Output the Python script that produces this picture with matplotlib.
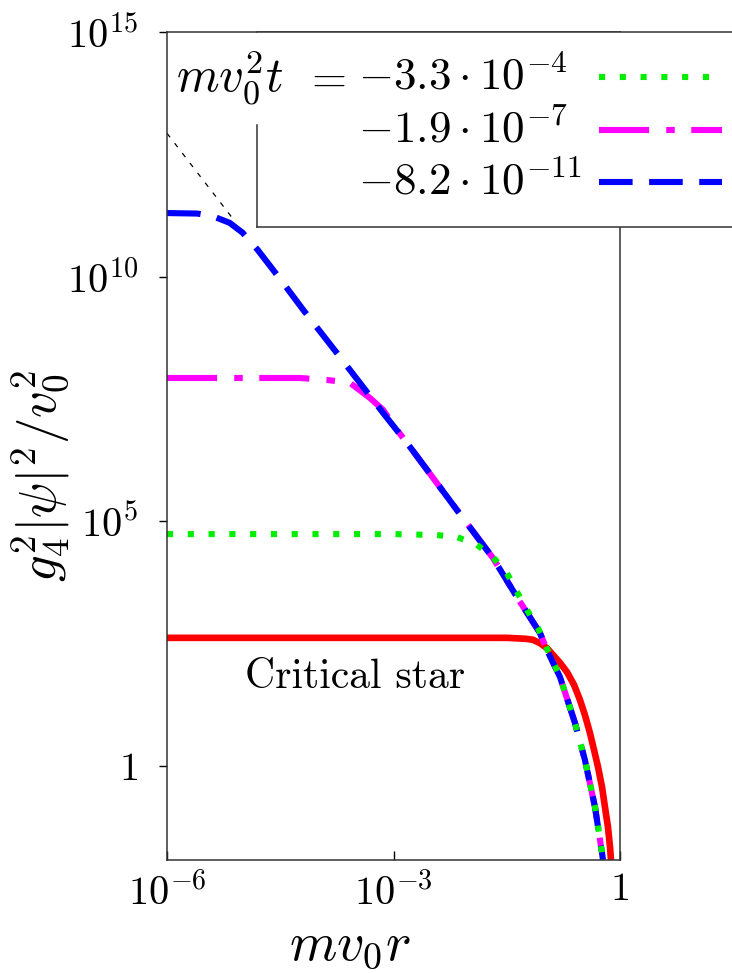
import matplotlib
matplotlib.use("Agg")
import matplotlib.pyplot as plt
import numpy as np
from matplotlib.lines import Line2D
from matplotlib.patches import Rectangle

plt.rcParams['mathtext.fontset'] = 'cm'
plt.rcParams['font.family'] = ['cmr10', 'DejaVu Serif']
plt.rcParams['axes.formatter.use_mathtext'] = True

# values, as log10(m v0 r) and log10(g4^2 |psi|^2 / v0^2)
star_logr = [-6.0, -3.0, -1.5, -1.245, -1.152, -1.06, -0.967, -0.887, -0.795, -0.702, -0.609, -0.53,
             -0.464, -0.397, -0.344, -0.291, -0.238, -0.199, -0.159, -0.132, -0.119]
star_logy = [2.62, 2.62, 2.62, 2.60, 2.58, 2.51, 2.41, 2.27, 2.11, 1.92, 1.66, 1.35,
             1.04, 0.67, 0.33, -0.02, -0.43, -0.84, -1.25, -1.66, -1.92]

green_logr = [-6.0, -3.0, -2.424, -2.159, -1.894, -1.682, -1.497, -1.364, -1.232, -1.086, -0.967, -0.795, -0.596, -0.464, -0.331, -0.238, -0.225]
green_logy = [4.74, 4.74, 4.72, 4.68, 4.52, 4.27, 3.94, 3.56, 3.19, 2.82, 2.40, 1.82, 0.88, 0.12, -0.84, -1.78, -1.92]

magenta_logr = [-6.0, -4.24, -3.881, -3.576, -3.311, -3.139, -2.954, -2.781, -2.159, -1.682, -1.364, -1.06, -0.967, -0.795, -0.596, -0.464, -0.331, -0.238, -0.225]
magenta_logy = [7.93, 7.93, 7.89, 7.83, 7.52, 7.28, 6.87, 6.52, 5.23, 4.25, 3.45, 2.72, 2.37, 1.82, 0.88, 0.12, -0.84, -1.78, -1.92]

blue_logr = [-6.0, -5.6, -5.4, -5.17, -5.0, -4.8, -4.5, -4.2, -3.75, -3.14, -2.781, -2.159, -1.682, -1.364, -1.06, -0.967, -0.795, -0.596, -0.464, -0.331, -0.238, -0.225]
blue_logy = [11.30, 11.29, 11.24, 11.10, 10.90, 10.55, 9.95, 9.33, 8.44, 7.22, 6.52, 5.23, 4.25, 3.45, 2.72, 2.37, 1.82, 0.88, 0.12, -0.84, -1.78, -1.92]

# thin r^-2 guide line
guide_logr = [-6.0, -5.13]
guide_logy = [12.93, 11.19]

times = [r"-3.3\cdot 10^{-4}", r"-1.9\cdot 10^{-7}", r"-8.2\cdot 10^{-11}"]

W, H = 732, 973
fig = plt.figure(figsize=(W / 100, H / 100), dpi=100)
ax = fig.add_axes([167 / W, 1 - 860 / H, (620 - 167) / W, (860 - 32) / H])

def fx(px):
    return px / W

def fy(py):
    return 1 - py / H

green_style = dict(color='#00ee00', lw=4.4, dashes=(1.0, 2.4))
magenta_style = dict(color='#ff00ff', lw=4.4, dashes=(8.2, 2.8, 1.4, 2.7))
blue_style = dict(color='#0000ff', lw=4.4, dashes=(5.5, 2.7))

ax.plot(10 ** np.array(guide_logr), 10 ** np.array(guide_logy), color='black', lw=0.9, dashes=(4, 6))
ax.plot(10 ** np.array(star_logr), 10 ** np.array(star_logy), color='#ff0000', lw=4.8, solid_capstyle='butt')
ax.plot(10 ** np.array(magenta_logr), 10 ** np.array(magenta_logy), **magenta_style)
ax.plot(10 ** np.array(blue_logr), 10 ** np.array(blue_logy), **blue_style)
ax.plot(10 ** np.array(green_logr), 10 ** np.array(green_logy), **green_style)

ax.set_xscale('log')
ax.set_yscale('log')
ax.set_xlim(1e-6, 1)
ax.set_ylim(10 ** -1.92, 1e15)

ax.set_xticks([1e-6, 1e-3, 1], labels=[r'$10^{-6}$', r'$10^{-3}$', r'$1$'])
ax.set_yticks([1, 1e5, 1e10, 1e15], labels=[r'$1$', r'$10^{5}$', r'$10^{10}$', r'$10^{15}$'])
ax.minorticks_off()
ax.tick_params(axis='x', direction='in', length=6.5, width=1, pad=9, labelsize=29)
ax.tick_params(axis='y', direction='out', length=6, width=1, pad=15, labelsize=29)
for s in ax.spines.values():
    s.set_linewidth(1.1)
    s.set_color('#333333')

ax.text(3.1e-4, 66, 'Critical star', ha='center', va='center', fontsize=30)

fig.text(fx(350), fy(959), r'$mv_0r$', ha='center', va='baseline', fontsize=39)
fig.text(fx(40), fy(476), r'$g_4^2|\psi|^2/v_0^2$', ha='center', va='center', rotation=90, fontsize=38)

# key box in gnuplot style
fig.patches.append(Rectangle((fx(257), fy(227)), fx(500), fy(32) - fy(227), transform=fig.transFigure,
                             facecolor='white', edgecolor='none', zorder=2))
for xs, ys in [([257, 740], [227, 227]), ([257, 257], [125, 227]), ([257, 740], [32, 32])]:
    fig.lines.append(Line2D([fx(v) for v in xs], [fy(v) for v in ys], transform=fig.transFigure,
                            color='#333333', lw=1.1, zorder=3))

row_y = [77, 130, 182]
fig.text(fx(176), fy(row_y[0]), r'$mv_0^2t$', ha='left', va='center', fontsize=35, zorder=4)
fig.text(fx(325), fy(row_y[0] + 3), r'$=$', ha='center', va='center', fontsize=32.5, zorder=4)
for t, yy in zip(times, row_y):
    fig.text(fx(358), fy(yy), '$' + t + '$', ha='left', va='center', fontsize=32.5, zorder=4)
for style, yy in zip([green_style, magenta_style, blue_style], row_y):
    fig.lines.append(Line2D([fx(599), fx(722)], [fy(yy), fy(yy)], transform=fig.transFigure, zorder=4, **style))

fig.savefig('out.png', dpi=100, facecolor='white')
